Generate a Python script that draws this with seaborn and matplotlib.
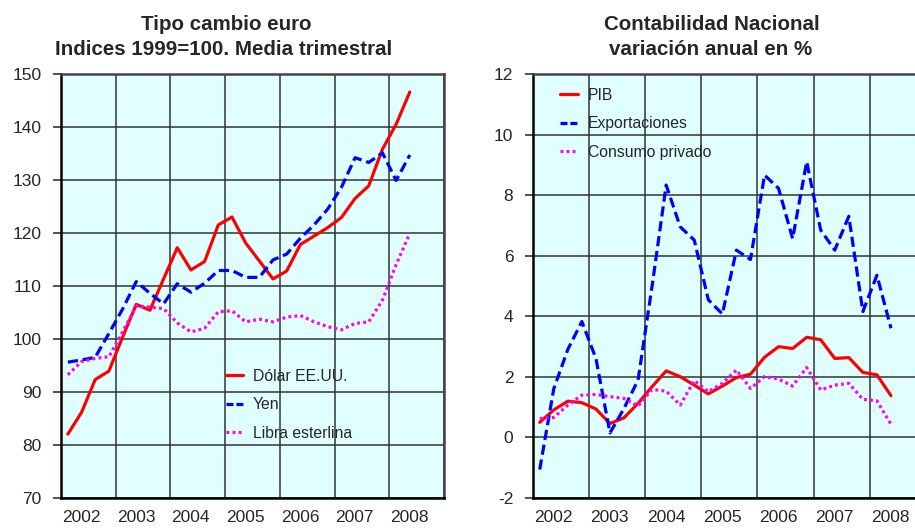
import numpy as np
import pandas as pd
import matplotlib
matplotlib.use("Agg")
import matplotlib.pyplot as plt
import seaborn as sns

# trimestres 2002T1 .. 2008T2
years = [2002, 2003, 2004, 2005, 2006, 2007, 2008]
t = np.array([y + (q - 0.5) / 4 for y in range(2002, 2009) for q in range(1, 5)])[:26]

# Tipo cambio euro (indices 1999=100)
dolar = [82.0, 86.1, 92.3, 93.9, 100.3, 106.5, 105.4, 111.3, 117.2, 113.0,
         114.6, 121.5, 123.0, 118.1, 114.7, 111.3, 112.8, 117.8, 119.4, 121.0,
         122.9, 126.5, 128.9, 135.8, 140.5, 146.6]
yen = [95.6, 96.0, 96.5, 101.0, 105.6, 110.8, 108.6, 106.6, 110.4, 108.8,
       110.5, 112.9, 112.9, 111.6, 111.6, 114.9, 116.0, 119.0, 121.5, 124.5,
       128.6, 134.2, 133.3, 135.1, 129.9, 134.7]
libra = [93.2, 95.7, 96.3, 96.6, 101.3, 106.2, 106.0, 105.7, 103.0, 101.3,
         102.0, 105.1, 105.3, 103.2, 103.7, 103.2, 104.1, 104.4, 103.2, 102.3,
         101.7, 102.9, 103.2, 107.3, 114.0, 119.9]

# Contabilidad Nacional (variacion anual en %)
pib = [0.49, 0.90, 1.19, 1.14, 0.93, 0.45, 0.64, 1.12, 1.67, 2.19,
       2.00, 1.72, 1.43, 1.69, 1.97, 2.08, 2.64, 2.99, 2.93, 3.30,
       3.22, 2.60, 2.63, 2.14, 2.06, 1.37]
export = [-1.07, 1.6, 2.9, 3.82, 2.6, 0.14, 0.95, 1.89, 5.0, 8.33,
          6.95, 6.51, 4.54, 4.07, 6.18, 5.87, 8.66, 8.22, 6.56, 9.10,
          6.84, 6.18, 7.30, 4.15, 5.35, 3.60]
consumo = [0.62, 0.65, 1.06, 1.39, 1.41, 1.34, 1.28, 1.03, 1.58, 1.52,
           1.06, 1.87, 1.50, 1.78, 2.22, 1.61, 2.00, 1.92, 1.69, 2.30,
           1.56, 1.72, 1.78, 1.25, 1.20, 0.43]

sns.set_style("white")
plt.rcParams['font.family'] = ['Liberation Sans', 'DejaVu Sans']
plt.rcParams['axes.unicode_minus'] = False

fig = plt.figure(figsize=(9.15, 5.30), dpi=100)
W, H = 915, 530
ax1 = fig.add_axes([61 / W, (530 - 497.7) / H, 383 / W, 423.7 / H])
ax2 = fig.add_axes([532.7 / W, (530 - 497.7) / H, 393.4 / W, 423.7 / H])

red, blue, mag = "#ff0000", "#0000ff", "#ff00ff"
lw = 2.3
dash = (0, (3.2, 1.5))
dot = (0, (0.9, 1.0))

sns.lineplot(x=t, y=dolar, ax=ax1, color=red, lw=lw, label="Dólar EE.UU.")
sns.lineplot(x=t, y=yen, ax=ax1, color=blue, lw=lw, linestyle=dash, label="Yen")
sns.lineplot(x=t, y=libra, ax=ax1, color=mag, lw=lw, linestyle=dot, label="Libra esterlina")

sns.lineplot(x=t, y=pib, ax=ax2, color=red, lw=lw, label="PIB")
sns.lineplot(x=t, y=export, ax=ax2, color=blue, lw=lw, linestyle=dash, label="Exportaciones")
sns.lineplot(x=t, y=consumo, ax=ax2, color=mag, lw=lw, linestyle=dot, label="Consumo privado")

for ax, lo, hi, step in [(ax1, 70, 150, 10), (ax2, -2, 12, 2)]:
    ax.set_facecolor("#e0ffff")
    ax.set_xlim(2002, 2009)
    ax.set_ylim(lo, hi)
    ax.set_yticks(np.arange(lo, hi + 1, step))
    ax.set_xticks(range(2002, 2010))
    ax.set_xticklabels([])
    ax.set_xticks([y + 0.37 for y in years], minor=True)
    ax.set_xticklabels([str(y) for y in years], minor=True)
    ax.tick_params(axis="x", which="both", length=0, pad=9, labelsize=12.5)
    ax.tick_params(axis="y", length=6, width=1.2, pad=8, labelsize=12.5,
                   direction="out", left=True, color="#333333")
    ax.grid(True, which="major", color="#333333", lw=1.1)
    ax.set_axisbelow(True)
    for s in ["left", "bottom"]:
        ax.spines[s].set_color("black")
        ax.spines[s].set_linewidth(1.8)
    for s in ["top", "right"]:
        ax.spines[s].set_color("#444444")
        ax.spines[s].set_linewidth(1.8)
    ax.set_xlabel("")
    ax.set_ylabel("")

leg1 = ax1.legend(loc="upper left", bbox_to_anchor=(0.43, 0.304), frameon=False,
                  fontsize=11.3, handlelength=1.1, handletextpad=0.65,
                  labelspacing=0.86, borderpad=0, borderaxespad=0)
leg2 = ax2.legend(loc="upper left", bbox_to_anchor=(0.069, 0.967), frameon=False,
                  fontsize=11.3, handlelength=1.15, handletextpad=0.65,
                  labelspacing=0.86, borderpad=0, borderaxespad=0)
# guiones mas cortos en la leyenda, como en el original
for leg in (leg1, leg2):
    leg.get_lines()[1].set_linestyle((0, (2.2, 0.9)))

tkw = dict(ha="center", va="baseline", fontsize=14.8, fontweight="bold")
fig.text(226 / W, 1 - 29.5 / H, "Tipo cambio euro", **tkw)
fig.text(224 / W, 1 - 55 / H, "Indices 1999=100. Media trimestral", **tkw)
fig.text(712 / W, 1 - 29.5 / H, "Contabilidad Nacional", **tkw)
fig.text(711 / W, 1 - 55 / H, "variación anual en %", **tkw)

fig.savefig("out.png", dpi=100)
